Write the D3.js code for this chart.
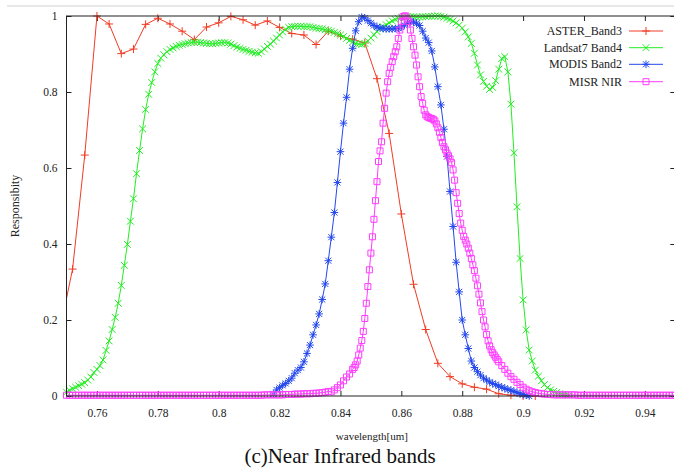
<!DOCTYPE html>
<html><head><meta charset="utf-8">
<script src="https://cdn.jsdelivr.net/npm/d3@7"></script>
<style>
html,body{margin:0;padding:0;background:#fff;}
svg{display:block;}
</style></head>
<body>
<svg id="chart" width="674" height="472"></svg>
<script>
// ---------------- DATA ----------------
const seriesNames = ["ASTER_Band3", "Landsat7 Band4", "MODIS Band2", "MISR NIR"];
const seriesColors = ["#f03c24", "#22ee22", "#2448ee", "#ff3cff"];

const xTickValues = [0.76, 0.78, 0.80, 0.82, 0.84, 0.86, 0.88, 0.90, 0.92, 0.94];
const xTickLabels = ["0.76", "0.78", "0.8", "0.82", "0.84", "0.86", "0.88", "0.9", "0.92", "0.94"];
const yTickValues = [0, 0.2, 0.4, 0.6, 0.8, 1];
const yTickLabels = ["0", "0.2", "0.4", "0.6", "0.8", "1"];

// ASTER Band3: sampled every 0.004 um from 0.748
const asterStart = 0.748, asterStep = 0.004;
const asterValues = [0.180, 0.334, 0.634, 1.000, 0.979, 0.901, 0.913, 0.978, 0.994, 0.979,
  0.960, 0.938, 0.971, 0.982, 0.999, 0.990, 0.976, 0.987, 0.970, 0.954,
  0.950, 0.925, 0.960, 0.947, 0.939, 0.929, 0.835, 0.691, 0.479, 0.294,
  0.175, 0.086, 0.051, 0.032, 0.023, 0.018, 0.006, 0.002, 0.000, 0.000];

// Landsat7 Band4: every 0.001 um from 0.750
const landsatStart = 0.750, landsatStep = 0.001;
const landsatValues = [
  0.010, 0.015, 0.019, 0.023, 0.027, 0.031, 0.035, 0.042, 0.050, 0.062,
  0.070, 0.080, 0.095, 0.120, 0.145, 0.175, 0.207, 0.244, 0.291, 0.344,
  0.399, 0.460, 0.519, 0.585, 0.646, 0.703, 0.754, 0.794, 0.825, 0.853,
  0.875, 0.889, 0.898, 0.906, 0.912, 0.916, 0.920, 0.923, 0.925, 0.927,
  0.929, 0.930, 0.931, 0.931, 0.930, 0.929, 0.928, 0.927, 0.927, 0.928,
  0.929, 0.930, 0.930, 0.929, 0.926, 0.922, 0.918, 0.915, 0.912, 0.910,
  0.907, 0.905, 0.903, 0.902, 0.906, 0.913, 0.920, 0.926, 0.934, 0.942,
  0.950, 0.958, 0.965, 0.970, 0.972, 0.973, 0.973, 0.973, 0.972, 0.972,
  0.972, 0.970, 0.968, 0.967, 0.966, 0.964, 0.962, 0.960, 0.957, 0.954,
  0.950, 0.946, 0.941, 0.936, 0.932, 0.928, 0.926, 0.925, 0.928, 0.934,
  0.942, 0.951, 0.959, 0.966, 0.972, 0.977, 0.982, 0.987, 0.991, 0.994,
  0.996, 0.997, 0.998, 0.998, 0.998, 0.997, 0.997, 0.998, 0.998, 0.999,
  0.999, 1.000, 1.000, 0.999, 0.997, 0.994, 0.991, 0.987, 0.982, 0.976,
  0.968, 0.958, 0.945, 0.928, 0.902, 0.871, 0.845, 0.828, 0.815, 0.807,
  0.812, 0.830, 0.860, 0.888, 0.893, 0.853, 0.768, 0.640, 0.498, 0.362,
  0.253, 0.174, 0.121, 0.092, 0.068, 0.052, 0.040, 0.030, 0.022, 0.016,
  0.012, 0.009, 0.006, 0.004, 0.003, 0.002];

// MODIS Band2: every 0.001 um from 0.818
const modisStart = 0.818, modisStep = 0.001;
const modisValues = [
  0.005, 0.016, 0.022, 0.028, 0.033, 0.040, 0.047, 0.060, 0.068, 0.075,
  0.090, 0.112, 0.134, 0.161, 0.187, 0.216, 0.254, 0.295, 0.356, 0.418,
  0.483, 0.562, 0.643, 0.718, 0.786, 0.860, 0.915, 0.961, 0.985, 0.997,
  0.995, 0.988, 0.981, 0.975, 0.971, 0.969, 0.967, 0.966, 0.966, 0.966,
  0.967, 0.968, 0.971, 0.976, 0.981, 0.985, 0.984, 0.981, 0.975, 0.960,
  0.942, 0.930, 0.908, 0.866, 0.814, 0.766, 0.702, 0.630, 0.538, 0.446,
  0.352, 0.274, 0.200, 0.161, 0.125, 0.092, 0.075, 0.064, 0.055, 0.047,
  0.042, 0.037, 0.033, 0.030, 0.026, 0.023, 0.020, 0.017, 0.015, 0.012,
  0.009, 0.006, 0.004, 0.002, 0.000];

// MISR NIR: three sampled segments
const misrLowStart = 0.750, misrLowStep = 0.001;
const misrLowValues = [
  0.002, 0.002, 0.002, 0.002, 0.002, 0.002, 0.002, 0.002, 0.002, 0.002,
  0.002, 0.002, 0.002, 0.002, 0.002, 0.002, 0.002, 0.002, 0.002, 0.002,
  0.002, 0.002, 0.002, 0.002, 0.002, 0.002, 0.002, 0.002, 0.002, 0.002,
  0.002, 0.002, 0.002, 0.002, 0.002, 0.002, 0.002, 0.002, 0.002, 0.002,
  0.002, 0.002, 0.002, 0.002, 0.002, 0.002, 0.002, 0.002, 0.002, 0.002,
  0.002, 0.002, 0.002, 0.002, 0.002, 0.002, 0.002, 0.002, 0.002, 0.002,
  0.002, 0.002, 0.002, 0.002, 0.002, 0.003, 0.003, 0.003, 0.003, 0.003,
  0.003, 0.003, 0.004, 0.004, 0.004, 0.005, 0.005, 0.005, 0.006, 0.006,
  0.006, 0.007, 0.007, 0.008, 0.009, 0.010, 0.012, 0.011, 0.016, 0.022,
  0.029, 0.040, 0.050, 0.058, 0.070];
const misrPeakStart = 0.8445, misrPeakStep = 0.0005;
const misrPeakValues = [
  0.075, 0.082, 0.092, 0.108, 0.126, 0.146, 0.170, 0.204, 0.244, 0.288,
  0.332, 0.376, 0.419, 0.465, 0.514, 0.564, 0.617, 0.645, 0.669, 0.718,
  0.757, 0.797, 0.827, 0.849, 0.865, 0.880, 0.893, 0.906, 0.919, 0.941,
  0.963, 0.985, 0.998, 1.000, 1.000, 0.992, 0.985, 0.963, 0.941, 0.919,
  0.897, 0.871, 0.840, 0.814, 0.788, 0.770, 0.752, 0.740, 0.735, 0.733,
  0.731, 0.730, 0.728, 0.724, 0.716, 0.706, 0.694, 0.680, 0.667, 0.656,
  0.648, 0.639, 0.632, 0.624, 0.614, 0.595, 0.568, 0.535, 0.507, 0.480,
  0.455, 0.436, 0.420, 0.410, 0.400, 0.389, 0.376, 0.362, 0.345, 0.330,
  0.310, 0.290, 0.268, 0.245, 0.222, 0.200, 0.182, 0.162, 0.145, 0.132,
  0.122, 0.114, 0.108, 0.102, 0.096, 0.090];
const misrTailStart = 0.893, misrTailStep = 0.001;
const misrTailValues = [
  0.080, 0.070, 0.060, 0.051, 0.044, 0.036, 0.030, 0.023, 0.018, 0.014,
  0.011, 0.009, 0.007, 0.006, 0.005, 0.004, 0.004, 0.003, 0.003, 0.003,
  0.003, 0.003, 0.003, 0.003, 0.003, 0.002, 0.002, 0.002, 0.002, 0.002,
  0.002, 0.002, 0.002, 0.002, 0.002, 0.002, 0.002, 0.002, 0.002, 0.002,
  0.002, 0.002, 0.002, 0.002, 0.002, 0.002, 0.002, 0.002, 0.002, 0.002,
  0.002, 0.002, 0.002, 0.002, 0.002, 0.002, 0.002, 0.002];

// ---------------- BUILD ----------------
const FONT = "'Liberation Serif', 'DejaVu Serif', serif";
const grid = (start, step, vals) => vals.map((v, i) => [start + i * step, v]);
const series = [
  grid(asterStart, asterStep, asterValues),
  grid(landsatStart, landsatStep, landsatValues),
  grid(modisStart, modisStep, modisValues),
  grid(misrLowStart, misrLowStep, misrLowValues)
    .concat(grid(misrPeakStart, misrPeakStep, misrPeakValues))
    .concat(grid(misrTailStart, misrTailStep, misrTailValues))
];

const svg = d3.select("#chart");
const x = d3.scaleLinear().domain([0.75, 0.95]).range([66.5, 675.3]);
const y = d3.scaleLinear().domain([0, 1]).range([396, 16]);
const L = x.range()[0], R = x.range()[1], T = y.range()[1], B = y.range()[0];

// faint page line at top
svg.append("line").attr("x1", 7).attr("x2", 674).attr("y1", 6).attr("y2", 6)
  .attr("stroke", "#e8e8e8").attr("stroke-width", 2);

svg.append("defs").append("clipPath").attr("id", "clip")
  .append("rect").attr("x", L).attr("y", T - 2).attr("width", R - L).attr("height", B - T + 4);

// axes (inside ticks)
const ax = (g) => {
  g.attr("font-family", FONT).attr("font-size", 11.5);
  g.select(".domain").remove();
  g.selectAll("line").attr("stroke", "#222");
  g.selectAll("text").attr("fill", "#222").style("font-family", FONT).style("font-size", "11.5px");
};
svg.append("g").attr("transform", `translate(${L},0)`)
  .call(d3.axisLeft(y).tickValues(yTickValues).tickFormat((d, i) => yTickLabels[i]).tickSize(-5).tickPadding(9)).call(ax);
svg.append("g").attr("transform", `translate(${R},0)`)
  .call(d3.axisRight(y).tickValues(yTickValues).tickFormat("").tickSize(-5)).call(ax);
svg.append("g").attr("transform", `translate(0,${B})`)
  .call(d3.axisBottom(x).tickValues(xTickValues).tickFormat((d, i) => xTickLabels[i]).tickSize(-5).tickPadding(13)).call(ax);
svg.append("g").attr("transform", `translate(0,${T})`)
  .call(d3.axisTop(x).tickValues(xTickValues).tickFormat("").tickSize(-5)).call(ax);

// markers
const sym = [
  s => `M${-s},0H${s}M0,${-s}V${s}`,
  s => `M${-s},${-s}L${s},${s}M${-s},${s}L${s},${-s}`,
  s => `M${-s},0H${s}M0,${-s}V${s}M${-s*0.8},${-s*0.8}L${s*0.8},${s*0.8}M${-s*0.8},${s*0.8}L${s*0.8},${-s*0.8}`,
  s => `M${-s},${-s}H${s}V${s}H${-s}Z`
];
const symSize = [4, 3.4, 3.8, 3];

const line = d3.line().x(d => x(d[0])).y(d => y(d[1]));
const plot = svg.append("g");
series.forEach((data, k) => {
  const g = plot.append("g");
  g.append("path").datum(data).attr("d", line).attr("clip-path", "url(#clip)")
    .attr("fill", "none").attr("stroke", seriesColors[k]).attr("stroke-width", 1);
  g.selectAll("path.m").data(data.filter(d => d[0] >= 0.7499 && d[0] <= 0.9501)).enter()
    .append("path").attr("class", "m")
    .attr("transform", d => `translate(${x(d[0])},${y(d[1])})`)
    .attr("d", sym[k](symSize[k])).attr("fill", "none")
    .attr("stroke", seriesColors[k]).attr("stroke-width", 1);
});

// frame
svg.append("rect").attr("x", L).attr("y", T).attr("width", R - L).attr("height", B - T)
  .attr("fill", "none").attr("stroke", "#222").attr("stroke-width", 1);

// legend
const legY = [31, 47.7, 64.3, 81.7];
seriesNames.forEach((n, k) => {
  const g = svg.append("g").attr("transform", `translate(0,${legY[k]})`);
  g.append("text").attr("x", 622).attr("y", 4).attr("text-anchor", "end")
    .style("font-family", FONT).style("font-size", "12px").attr("fill", "#222").text(n);
  g.append("line").attr("x1", 629).attr("x2", 663).attr("stroke", seriesColors[k]).attr("stroke-width", 1);
  g.append("path").attr("transform", "translate(646,0)").attr("d", sym[k](symSize[k]))
    .attr("fill", "none").attr("stroke", seriesColors[k]).attr("stroke-width", 1);
});

// axis titles
svg.append("text").attr("x", (L + R) / 2 + 1).attr("y", 440).attr("text-anchor", "middle")
  .style("font-family", FONT).style("font-size", "11px").attr("fill", "#222").text("wavelength[um]");
svg.append("text").attr("transform", "translate(19,206) rotate(-90)").attr("text-anchor", "middle")
  .style("font-family", FONT).style("font-size", "12px").attr("fill", "#222").text("Responsibity");
svg.append("text").attr("x", 340).attr("y", 463).attr("text-anchor", "middle")
  .style("font-family", FONT).style("font-size", "21px").attr("fill", "#111").text("(c)Near Infrared bands");
</script>
</body></html>
